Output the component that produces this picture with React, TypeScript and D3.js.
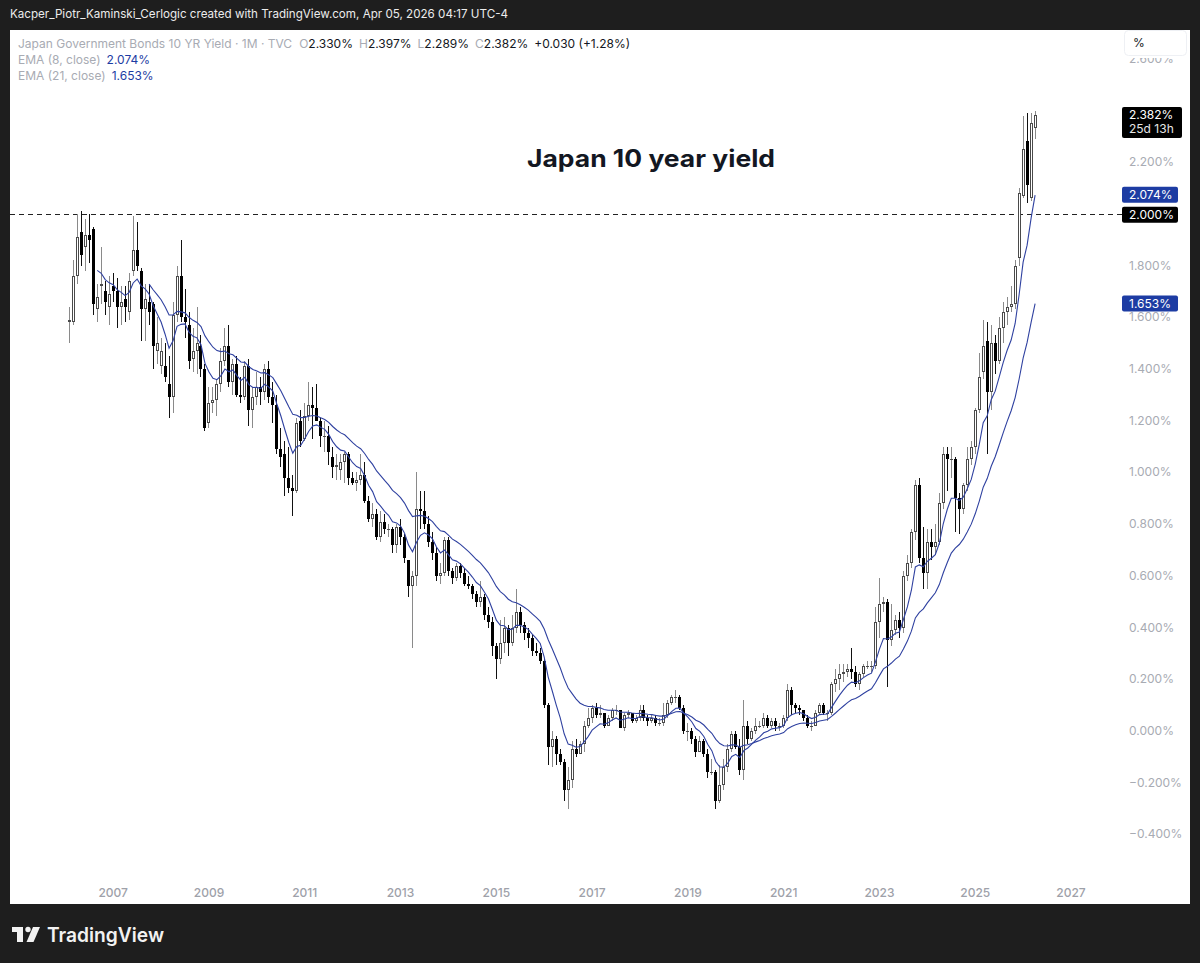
import React from "react";
import * as d3 from "d3";

// Monthly bars of TVC JP10Y, first bar = Feb 2006, last bar = Apr 2026
const firstYear = 2006;
const firstMonth = 1; // 0-based (Feb)

const opens = [
  1.58, 1.58, 1.76, 1.93, 1.87, 1.92, 1.94, 1.63, 1.72, 1.70, 1.64,
  1.72, 1.70, 1.64, 1.67, 1.62, 1.78, 1.86, 1.78, 1.63, 1.66, 1.65, 1.47,
  1.41, 1.41, 1.34, 1.29, 1.61, 1.76, 1.60, 1.57, 1.44, 1.47, 1.49, 1.40,
  1.19, 1.27, 1.28, 1.34, 1.43, 1.49, 1.35, 1.42, 1.30, 1.29, 1.41, 1.24,
  1.29, 1.33, 1.31, 1.40, 1.29, 1.26, 1.09, 1.07, 0.98, 0.94, 0.93, 1.20,
  1.13, 1.22, 1.26, 1.25, 1.20, 1.14, 1.14, 1.06, 1.02, 1.01, 1.04, 1.07,
  0.98, 0.96, 0.97, 0.99, 0.89, 0.82, 0.84, 0.75, 0.81, 0.78, 0.78, 0.72,
  0.79, 0.75, 0.66, 0.56, 0.60, 0.86, 0.85, 0.80, 0.73, 0.69, 0.60, 0.61,
  0.74, 0.62, 0.59, 0.64, 0.61, 0.57, 0.56, 0.53, 0.50, 0.52, 0.45, 0.42,
  0.33, 0.28, 0.34, 0.40, 0.34, 0.40, 0.46, 0.41, 0.38, 0.36, 0.31, 0.30,
  0.27, 0.10, -0.06, -0.03, -0.09, -0.12, -0.23, -0.19, -0.07, -0.09, -0.05, 0.02,
  0.05, 0.09, 0.06, 0.07, 0.02, 0.05, 0.08, 0.08, 0.01, 0.06, 0.07, 0.04,
  0.05, 0.08, 0.05, 0.04, 0.05, 0.03, 0.03, 0.06, 0.11, 0.13, 0.13, 0.09,
  0.00, 0.00, -0.03, -0.08, -0.04, -0.09, -0.16, -0.16, -0.27, -0.21, -0.14, -0.07,
  -0.01, -0.06, -0.15, 0.02, -0.03, 0.00, 0.02, 0.02, 0.05, 0.02, 0.04, 0.02,
  0.02, 0.05, 0.16, 0.10, 0.09, 0.08, 0.05, 0.02, 0.02, 0.07, 0.10, 0.07,
  0.07, 0.18, 0.20, 0.22, 0.23, 0.24, 0.23, 0.18, 0.22, 0.25, 0.25, 0.25,
  0.42, 0.49, 0.50, 0.35, 0.39, 0.43, 0.40, 0.60, 0.65, 0.77, 0.95, 0.67,
  0.61, 0.73, 0.71, 0.73, 0.88, 1.07, 1.05, 1.05, 0.90, 0.86, 0.95, 1.05,
  1.10, 1.24, 1.39, 1.51, 1.31, 1.50, 1.43, 1.56, 1.62, 1.64, 1.65, 1.83,
  2.07, 2.28, 2.06, 2.33,
];

const highs = [
  1.64, 1.82, 2.00, 2.01, 1.98, 2.00, 1.95, 1.73, 1.87, 1.74, 1.76,
  1.77, 1.75, 1.72, 1.72, 1.77, 1.99, 1.97, 1.79, 1.73, 1.73, 1.66, 1.60,
  1.52, 1.50, 1.45, 1.66, 1.80, 1.90, 1.71, 1.62, 1.56, 1.64, 1.53, 1.42,
  1.33, 1.33, 1.36, 1.48, 1.56, 1.57, 1.44, 1.45, 1.37, 1.43, 1.44, 1.33,
  1.39, 1.37, 1.42, 1.43, 1.35, 1.30, 1.17, 1.12, 1.10, 0.99, 1.21, 1.24,
  1.27, 1.35, 1.33, 1.34, 1.21, 1.20, 1.18, 1.10, 1.07, 1.07, 1.08, 1.08,
  1.00, 1.00, 1.07, 1.04, 0.91, 0.88, 0.86, 0.85, 0.84, 0.80, 0.79, 0.80,
  0.82, 0.76, 0.66, 0.62, 1.00, 0.93, 0.93, 0.83, 0.77, 0.71, 0.65, 0.75,
  0.75, 0.63, 0.65, 0.65, 0.63, 0.60, 0.57, 0.54, 0.58, 0.53, 0.48, 0.44,
  0.34, 0.43, 0.44, 0.41, 0.45, 0.55, 0.48, 0.42, 0.40, 0.37, 0.34, 0.32,
  0.28, 0.11, 0.00, -0.02, -0.07, -0.11, -0.14, -0.04, -0.03, -0.04, 0.04, 0.09,
  0.10, 0.11, 0.10, 0.07, 0.06, 0.09, 0.10, 0.08, 0.07, 0.08, 0.07, 0.06,
  0.10, 0.10, 0.06, 0.06, 0.06, 0.05, 0.11, 0.12, 0.14, 0.16, 0.14, 0.10,
  0.03, 0.01, -0.02, -0.02, -0.03, -0.07, -0.11, -0.15, -0.13, -0.11, -0.05, 0.00,
  0.00, -0.03, 0.12, 0.04, 0.01, 0.05, 0.04, 0.07, 0.06, 0.05, 0.05, 0.03,
  0.06, 0.18, 0.17, 0.11, 0.10, 0.08, 0.06, 0.04, 0.08, 0.11, 0.11, 0.08,
  0.19, 0.24, 0.26, 0.26, 0.26, 0.32, 0.25, 0.23, 0.26, 0.27, 0.27, 0.48,
  0.59, 0.52, 0.51, 0.49, 0.45, 0.46, 0.62, 0.68, 0.78, 0.97, 0.98, 0.79,
  0.78, 0.78, 0.80, 0.92, 1.10, 1.10, 1.10, 1.06, 0.92, 0.96, 1.10, 1.12,
  1.25, 1.46, 1.59, 1.58, 1.57, 1.53, 1.60, 1.66, 1.68, 1.72, 1.82, 2.10,
  2.38, 2.39, 2.39, 2.397,
];

const lows = [
  1.50, 1.57, 1.73, 1.80, 1.78, 1.81, 1.61, 1.58, 1.65, 1.61, 1.57,
  1.66, 1.56, 1.57, 1.58, 1.59, 1.76, 1.78, 1.51, 1.51, 1.57, 1.40, 1.42,
  1.38, 1.35, 1.21, 1.23, 1.58, 1.58, 1.52, 1.40, 1.39, 1.38, 1.37, 1.16,
  1.17, 1.23, 1.22, 1.31, 1.41, 1.33, 1.30, 1.29, 1.27, 1.28, 1.18, 1.17,
  1.26, 1.26, 1.28, 1.27, 1.19, 1.07, 1.02, 0.91, 0.92, 0.83, 0.92, 1.10,
  1.12, 1.20, 1.13, 1.20, 1.10, 1.08, 1.03, 0.98, 0.97, 0.97, 0.96, 0.95,
  0.95, 0.93, 0.95, 0.88, 0.81, 0.79, 0.74, 0.73, 0.76, 0.75, 0.69, 0.69,
  0.72, 0.65, 0.52, 0.32, 0.56, 0.78, 0.78, 0.71, 0.66, 0.58, 0.57, 0.60,
  0.60, 0.57, 0.58, 0.59, 0.56, 0.55, 0.51, 0.48, 0.48, 0.43, 0.40, 0.29,
  0.20, 0.26, 0.30, 0.29, 0.33, 0.38, 0.38, 0.35, 0.32, 0.29, 0.29, 0.26,
  0.09, -0.13, -0.14, -0.13, -0.13, -0.27, -0.30, -0.22, -0.10, -0.09, -0.08, 0.01,
  0.03, 0.05, 0.05, 0.01, 0.02, 0.04, 0.06, 0.01, 0.00, 0.05, 0.03, 0.03,
  0.04, 0.04, 0.02, 0.03, 0.02, 0.02, 0.02, 0.05, 0.10, 0.11, 0.08, -0.01,
  -0.04, -0.05, -0.10, -0.08, -0.10, -0.18, -0.17, -0.30, -0.28, -0.23, -0.16, -0.08,
  -0.07, -0.17, -0.19, -0.05, -0.04, -0.01, 0.01, 0.01, 0.01, 0.01, 0.00, 0.00,
  0.01, 0.04, 0.06, 0.07, 0.06, 0.04, 0.01, 0.00, 0.02, 0.06, 0.06, 0.04,
  0.06, 0.15, 0.16, 0.19, 0.21, 0.20, 0.17, 0.16, 0.21, 0.24, 0.23, 0.24,
  0.36, 0.46, 0.17, 0.33, 0.37, 0.36, 0.38, 0.58, 0.63, 0.74, 0.65, 0.55,
  0.55, 0.66, 0.68, 0.72, 0.86, 0.93, 0.98, 0.77, 0.76, 0.84, 0.93, 1.03,
  1.07, 1.23, 1.36, 1.07, 1.24, 1.38, 1.42, 1.50, 1.57, 1.62, 1.63, 1.80,
  2.06, 2.04, 2.05, 2.289,
];

const closes = [
  1.59, 1.76, 1.91, 1.84, 1.92, 1.90, 1.65, 1.68, 1.73, 1.66, 1.69,
  1.70, 1.64, 1.66, 1.64, 1.74, 1.86, 1.80, 1.63, 1.67, 1.62, 1.49, 1.50,
  1.47, 1.37, 1.29, 1.61, 1.76, 1.60, 1.58, 1.43, 1.47, 1.50, 1.40, 1.17,
  1.27, 1.28, 1.34, 1.43, 1.49, 1.35, 1.42, 1.30, 1.29, 1.41, 1.24, 1.29,
  1.33, 1.31, 1.40, 1.29, 1.26, 1.09, 1.06, 0.98, 0.94, 0.93, 1.19, 1.12,
  1.22, 1.26, 1.25, 1.20, 1.14, 1.14, 1.08, 1.02, 1.03, 1.04, 1.07, 0.98,
  0.96, 0.97, 0.99, 0.89, 0.82, 0.84, 0.75, 0.81, 0.78, 0.78, 0.72, 0.79,
  0.75, 0.67, 0.56, 0.60, 0.86, 0.85, 0.80, 0.73, 0.69, 0.60, 0.61, 0.74,
  0.62, 0.59, 0.64, 0.61, 0.57, 0.56, 0.53, 0.50, 0.52, 0.45, 0.42, 0.33,
  0.28, 0.34, 0.40, 0.34, 0.40, 0.46, 0.41, 0.38, 0.36, 0.31, 0.30, 0.27,
  0.10, -0.06, -0.03, -0.09, -0.12, -0.23, -0.19, -0.07, -0.09, -0.05, 0.02, 0.05,
  0.09, 0.06, 0.07, 0.02, 0.05, 0.08, 0.08, 0.01, 0.06, 0.07, 0.04, 0.05,
  0.08, 0.05, 0.04, 0.05, 0.03, 0.03, 0.06, 0.11, 0.13, 0.13, 0.09, 0.00,
  0.00, -0.03, -0.08, -0.04, -0.09, -0.16, -0.16, -0.27, -0.21, -0.14, -0.07, -0.01,
  -0.06, -0.15, 0.02, -0.03, 0.00, 0.02, 0.02, 0.05, 0.02, 0.04, 0.02, 0.02,
  0.05, 0.16, 0.10, 0.09, 0.08, 0.05, 0.02, 0.02, 0.07, 0.10, 0.07, 0.07,
  0.18, 0.20, 0.22, 0.23, 0.24, 0.23, 0.18, 0.22, 0.25, 0.25, 0.25, 0.42,
  0.49, 0.50, 0.35, 0.39, 0.43, 0.40, 0.60, 0.65, 0.77, 0.95, 0.67, 0.61,
  0.73, 0.71, 0.73, 0.88, 1.07, 1.05, 1.05, 0.90, 0.86, 0.95, 1.05, 1.10,
  1.24, 1.37, 1.49, 1.31, 1.50, 1.43, 1.56, 1.62, 1.64, 1.65, 1.80, 2.08,
  2.25, 2.11, 2.35, 2.382,
];

const yearTicks = [2007, 2009, 2011, 2013, 2015, 2017, 2019, 2021, 2023, 2025, 2027];
// 2.0 and 2.4 tick labels are hidden behind the price labels in the reference
const priceTicks = [-0.4, -0.2, 0, 0.2, 0.4, 0.6, 0.8, 1.0, 1.2, 1.4, 1.6, 1.8, 2.2, 2.6];
const emaLengths = [8, 21];
const ema8Last = 2.074;
const ema21Last = 1.653;
const levelLine = 2.0;
const headerText = "Kacper_Piotr_Kaminski_Cerlogic created with TradingView.com, Apr 05, 2026 04:17 UTC-4";
const seriesTitle = "Japan Government Bonds 10 YR Yield · 1M · TVC";
const ohlcText = { o: "2.330%", h: "2.397%", l: "2.289%", c: "2.382%", chg: "+0.030 (+1.28%)" };
const chartTitle = "Japan 10 year yield";
const countdown = "25d 13h";

function ema(src: number[], len: number): (number | null)[] {
  const out: (number | null)[] = [];
  const a = 2 / (len + 1);
  let prev: number | null = null;
  for (let i = 0; i < src.length; i++) {
    if (i < len - 1) { out.push(null); continue; }
    if (prev === null) {
      prev = d3.mean(src.slice(i - len + 1, i + 1)) as number;
    } else {
      prev = a * src[i] + (1 - a) * prev;
    }
    out.push(prev);
  }
  return out;
}

const FONT = "Inter, 'Noto Sans', 'Liberation Sans', sans-serif";

export default function App() {
  const n = closes.length;
  const x = d3.scaleLinear().domain([0, n - 1]).range([69.3, 1035.1]);
  const y = d3.scaleLinear().domain([0, 2.2]).range([731, 162.1]);
  const idxOfYear = (yr: number) => (yr - firstYear) * 12 - firstMonth;

  const emas = emaLengths.map((L) => ema(closes, L));
  const line = d3
    .line<number | null>()
    .defined((d) => d !== null)
    .x((_, i) => x(i))
    .y((d) => y(d as number));

  const fmt = (v: number) => (v < 0 ? "\u2212" : "") + Math.abs(v).toFixed(3) + "%";

  const gray = "#a8abb3";
  const emaColor = "#2f41a0";
  const labelBlue = "#1d3ca3";
  const lastY = Math.round(y(closes[n - 1]));

  return (
    <div style={{ position: "fixed", left: 0, top: 0, width: 1200, height: 963 }}>
      <svg width={1200} height={963} style={{ display: "block" }} fontFamily={FONT}>
        <defs>
          <clipPath id="plot">
            <rect x={10} y={30} width={1112} height={874} />
          </clipPath>
          <clipPath id="axisTop">
            <rect x={1122} y={58} width={68} height={846} />
          </clipPath>
        </defs>
        <rect x={0} y={0} width={1200} height={963} fill="#1e1e1e" />
        <text x={10} y={18} fontSize={12} fill="#ececec" textLength={498} lengthAdjust="spacingAndGlyphs">
          {headerText}
        </text>
        <rect x={10} y={30} width={1180} height={874} fill="#ffffff" />

        <g clipPath="url(#plot)">
          {/* level line */}
          <line
            x1={10}
            x2={1122}
            y1={Math.round(y(levelLine)) + 0.5}
            y2={Math.round(y(levelLine)) + 0.5}
            stroke="#222"
            strokeWidth={1}
            strokeDasharray="5,4"
          />
          {/* candles */}
          <g shapeRendering="crispEdges">
            {closes.map((c, i) => {
              const o = opens[i];
              const up = c >= o;
              const left = Math.round(x(i) - 1.5);
              const cx = left + 1.5;
              const top = Math.round(y(Math.max(o, c)));
              const bot = Math.max(Math.round(y(Math.min(o, c))), top + 1);
              return (
                <g key={i}>
                  <line
                    x1={cx}
                    x2={cx}
                    y1={Math.round(y(highs[i]))}
                    y2={Math.round(y(lows[i]))}
                    stroke={up ? "#8a8a8a" : "#111"}
                    strokeWidth={1}
                  />
                  <rect
                    x={left + 0.5}
                    y={top + 0.5}
                    width={2}
                    height={Math.max(bot - top - 1, 0.01)}
                    fill={up ? "#ffffff" : "#000000"}
                    stroke={up ? "#4a4a4a" : "#000000"}
                    strokeWidth={1}
                  />
                </g>
              );
            })}
          </g>
          {/* EMAs */}
          {emas.map((e, k) => (
            <path key={k} d={line(e) || ""} fill="none" stroke={emaColor} strokeWidth={1.1} />
          ))}
        </g>

        {/* price axis labels (top one partly hidden under the % button) */}
        <g clipPath="url(#axisTop)">
          {priceTicks.map((t) => (
            <text key={t} x={1129} y={y(t) + 4} fontSize={12} fill={gray}>
              {fmt(t)}
            </text>
          ))}
        </g>

        {/* year labels */}
        {yearTicks.map((yr) => (
          <text key={yr} x={x(idxOfYear(yr))} y={897} fontSize={12} fill="#9ea1a9" textAnchor="middle" fontWeight={500}>
            {yr}
          </text>
        ))}

        {/* % button */}
        <rect x={1124.5} y={30.5} width={62} height={25} rx={4} fill="#fff" stroke="#eef0f4" />
        <text x={1133} y={47} fontSize={12} fill="#131722">%</text>

        {/* current price label */}
        <rect x={1122} y={lastY - 8} width={60} height={31} rx={2} fill="#000" />
        <text x={1129} y={lastY + 4} fontSize={12} fill="#fff">
          {ohlcText.c}
        </text>
        <text x={1129} y={lastY + 18} fontSize={12} fill="#e6e6e6">
          {countdown}
        </text>

        {/* EMA8 label */}
        <rect x={1122} y={y(ema8Last) - 8} width={56} height={16} rx={2} fill={labelBlue} />
        <text x={1129} y={y(ema8Last) + 4} fontSize={12} fill="#fff">{fmt(ema8Last)}</text>
        {/* level label */}
        <rect x={1122} y={y(levelLine) - 7} width={56} height={16} rx={2} fill="#000" />
        <text x={1129} y={y(levelLine) + 5} fontSize={12} fill="#fff">{fmt(levelLine)}</text>
        {/* EMA21 label */}
        <rect x={1122} y={y(ema21Last) - 8} width={56} height={16} rx={2} fill={labelBlue} />
        <text x={1129} y={y(ema21Last) + 4} fontSize={12} fill="#fff">{fmt(ema21Last)}</text>

        {/* legend */}
        <text x={18} y={48} fontSize={12} fill={gray}>
          <tspan>{seriesTitle}</tspan>
          <tspan dx={7}>O</tspan>
          <tspan fill="#131722">{ohlcText.o}</tspan>
          <tspan dx={6}>H</tspan>
          <tspan fill="#131722">{ohlcText.h}</tspan>
          <tspan dx={6}>L</tspan>
          <tspan fill="#131722">{ohlcText.l}</tspan>
          <tspan dx={6}>C</tspan>
          <tspan fill="#131722">{ohlcText.c}</tspan>
          <tspan dx={6} fill="#131722">{ohlcText.chg}</tspan>
        </text>
        <text x={18} y={64} fontSize={12} fill={gray}>
          <tspan>EMA (8, close)</tspan>
          <tspan dx={6} fill={labelBlue}>{fmt(ema8Last)}</tspan>
        </text>
        <text x={18} y={80} fontSize={12} fill={gray}>
          <tspan>EMA (21, close)</tspan>
          <tspan dx={6} fill={labelBlue}>{fmt(ema21Last)}</tspan>
        </text>

        {/* title */}
        <text x={527} y={167} fontSize={24} fontWeight={700} fill="#131722" textLength={248} lengthAdjust="spacingAndGlyphs">
          {chartTitle}
        </text>

        {/* TradingView logo */}
        <g fill="#f2f2f2">
          <rect x={12} y={927} width={11} height={5} />
          <rect x={17} y={927} width={6} height={15} />
          <circle cx={28} cy={929.5} r={2.7} />
          <polygon points="33,927 40,927 33.5,942 26.5,942" />
        </g>
        <text x={47} y={942} fontSize={20} fontWeight={600} fill="#f2f2f2" textLength={117} lengthAdjust="spacingAndGlyphs">
          TradingView
        </text>
      </svg>
    </div>
  );
}
